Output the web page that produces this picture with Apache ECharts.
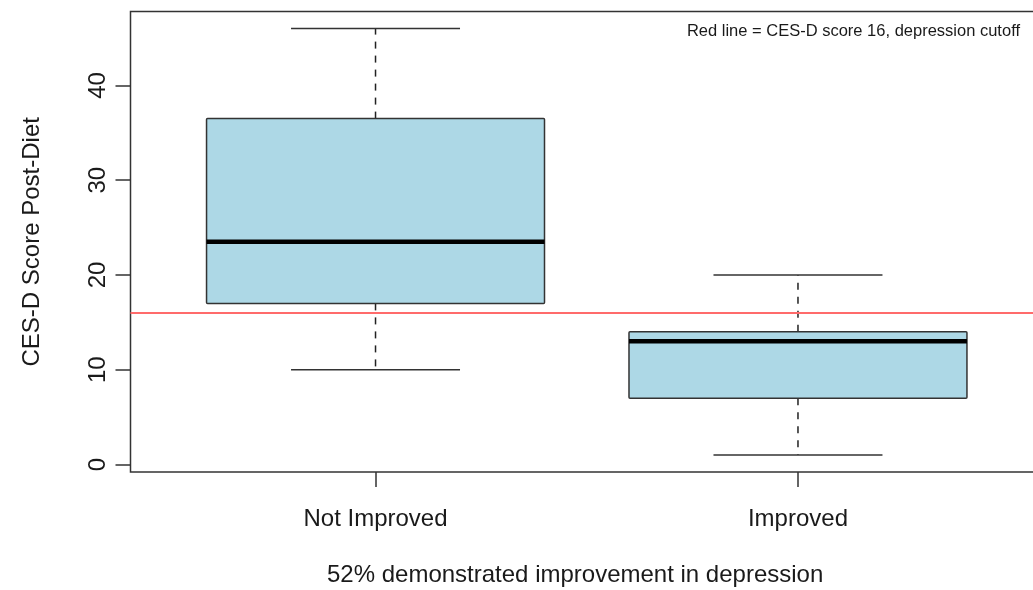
<!DOCTYPE html>
<html>
<head>
<meta charset="utf-8">
<script src="https://cdn.jsdelivr.net/npm/echarts@6/dist/echarts.min.js"></script>
<style>
html,body{margin:0;padding:0;background:#fff;}
#chart{width:1033px;height:590px;}
</style>
</head>
<body>
<div id="chart"></div>
<script>
var categories = ['Not Improved', 'Improved'];
var lowerWhisker = [10, 1];
var q1 = [17, 7];
var median = [23.5, 13];
var q3 = [36.5, 14];
var upperWhisker = [46, 20];
var cutoff = 16;
var yTicks = [0, 10, 20, 30, 40];
var xTicks = [1, 2];
var yTitle = 'CES-D Score Post-Diet';
var xTitle = '52% demonstrated improvement in depression';
var note = 'Red line = CES-D score 16, depression cutoff';

var FONT = '"Liberation Sans", Arial, sans-serif';
var boxData = categories.map(function (c, i) {
  return [i + 1, lowerWhisker[i], q1[i], median[i], q3[i], upperWhisker[i]];
});

var chart = echarts.init(document.getElementById('chart'), null, {renderer: 'canvas'});
chart.setOption({
  animation: false,
  backgroundColor: '#ffffff',
  grid: {
    left: 130.5, top: 11.5, width: 912.5, height: 460.6,
    outerBoundsMode: 'none', containLabel: false,
    show: true, borderColor: '#333', borderWidth: 1.5, backgroundColor: 'transparent'
  },
  xAxis: {
    type: 'value', min: 0.42, max: 2.58,
    splitLine: {show: false},
    axisLine: {show: false, onZero: false},
    axisTick: {show: true, customValues: xTicks, length: 15, lineStyle: {color: '#333', width: 1.5}},
    axisLabel: {
      show: true, customValues: xTicks, margin: 35,
      fontFamily: FONT, fontSize: 24, color: '#1a1a1a',
      formatter: function (v) { return categories[Math.round(v) - 1]; }
    }
  },
  yAxis: {
    type: 'value', min: -0.8, max: 47.8,
    name: yTitle, nameLocation: 'middle', nameGap: 86,
    nameTextStyle: {fontFamily: FONT, fontSize: 24, color: '#1a1a1a'},
    splitLine: {show: false},
    axisLine: {show: false, onZero: false},
    axisTick: {show: true, customValues: yTicks, length: 15, lineStyle: {color: '#333', width: 1.5}},
    axisLabel: {
      show: true, customValues: yTicks, rotate: 90, margin: 20,
      fontFamily: FONT, fontSize: 24, color: '#1a1a1a'
    }
  },
  graphic: [
    {type: 'text', left: 575 - 248, top: 563, style: {text: xTitle, font: '24px ' + FONT, fill: '#1a1a1a'}},
    {type: 'text', right: 13, top: 23, style: {text: note, font: '16.5px ' + FONT, fill: '#1a1a1a'}}
  ],
  series: [{
    type: 'custom',
    data: boxData,
    encode: {x: 0, y: [1, 2, 3, 4, 5]},
    renderItem: function (params, api) {
      var x = api.value(0);
      var lw = api.value(1), a = api.value(2), m = api.value(3), b = api.value(4), uw = api.value(5);
      var boxHalf = 0.4, capHalf = 0.2;
      var pL = api.coord([x - boxHalf, b]);
      var pR = api.coord([x + boxHalf, a]);
      var pc = function (v) { return api.coord([x, v]); };
      var capL = api.coord([x - capHalf, uw]);
      var capR = api.coord([x + capHalf, uw]);
      var capL2 = api.coord([x - capHalf, lw]);
      var capR2 = api.coord([x + capHalf, lw]);
      var medL = api.coord([x - boxHalf, m]);
      var medR = api.coord([x + boxHalf, m]);
      var dash = {stroke: '#222', lineWidth: 1.5, lineDash: [7, 7]};
      var solid = {stroke: '#333', lineWidth: 1.5};
      return {
        type: 'group',
        children: [
          {type: 'line', shape: {x1: pc(b)[0], y1: pc(b)[1], x2: pc(uw)[0], y2: pc(uw)[1]}, style: dash},
          {type: 'line', shape: {x1: pc(a)[0], y1: pc(a)[1], x2: pc(lw)[0], y2: pc(lw)[1]}, style: dash},
          {type: 'line', shape: {x1: capL[0], y1: capL[1], x2: capR[0], y2: capR[1]}, style: solid},
          {type: 'line', shape: {x1: capL2[0], y1: capL2[1], x2: capR2[0], y2: capR2[1]}, style: solid},
          {type: 'rect', shape: {x: pL[0], y: pL[1], width: pR[0] - pL[0], height: pR[1] - pL[1], r: 1},
            style: {fill: '#add8e6', stroke: '#333', lineWidth: 1.5}},
          {type: 'line', shape: {x1: medL[0], y1: medL[1], x2: medR[0], y2: medR[1]},
            style: {stroke: '#000', lineWidth: 4.5}}
        ]
      };
    },
    markLine: {
      silent: true, symbol: 'none', label: {show: false},
      lineStyle: {color: '#ff6b6b', width: 2, type: 'solid'},
      data: [{yAxis: cutoff}]
    },
    z: 2
  }]
});
</script>
</body>
</html>
